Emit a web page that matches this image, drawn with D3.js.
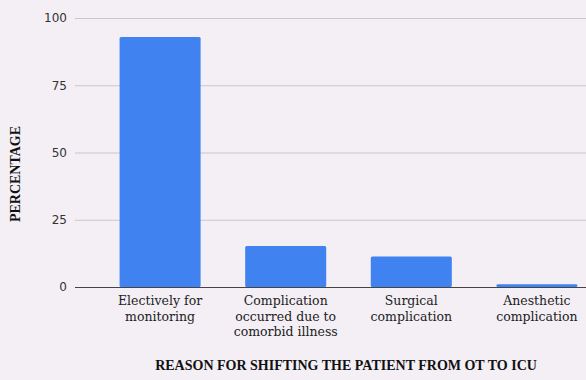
<!DOCTYPE html>
<html>
<head>
<meta charset="utf-8">
<script src="https://cdn.jsdelivr.net/npm/d3@7"></script>
<style>
  body { margin: 0; background: #f3eff5; }
  svg { display: block; }
</style>
</head>
<body>
<svg id="chart"></svg>
<script>
// data
var categories = [
    ["Electively for", "monitoring"],
    ["Complication", "occurred due to", "comorbid illness"],
    ["Surgical", "complication"],
    ["Anesthetic", "complication"]
];
var percentages = [92.9, 15.2, 11.3, 1.0];
var yTicks = [0, 25, 50, 75, 100];

var dimensions = {
    width: 586,
    height: 380,
    margin: { top: 18, bottom: 93, left: 75, right: -36 }
}

var data = categories.map(function(c, i){
    return { label: c, key: c.join(" "), value: percentages[i] };
});

var svg = d3.select("#chart")
            .attr("width", dimensions.width)
            .attr("height", dimensions.height)

var xScale = d3.scaleBand()
               .domain(data.map(function(d){ return d.key }))
               .range([dimensions.margin.left, dimensions.width - dimensions.margin.right])
               .padding(0.355)

var yScale = d3.scaleLinear()
               .domain([0, 100])
               .range([dimensions.height - dimensions.margin.bottom, dimensions.margin.top])

// gridlines
svg.append("g")
   .selectAll("line")
   .data(yTicks.filter(function(t){ return t > 0 }))
   .enter()
   .append("line")
   .attr("x1", dimensions.margin.left)
   .attr("x2", dimensions.width - dimensions.margin.right)
   .attr("y1", function(d){ return yScale(d) + 0.5 })
   .attr("y2", function(d){ return yScale(d) + 0.5 })
   .style("stroke", "#c9c7cb")
   .style("stroke-width", 1.2)

// bars
svg.append("g")
   .selectAll("rect")
   .data(data)
   .enter()
   .append("rect")
   .attr("x", function(d){ return xScale(d.key) })
   .attr("y", function(d){ return yScale(d.value) })
   .attr("width", xScale.bandwidth())
   .attr("height", function(d){ return yScale(0) - yScale(d.value) })
   .attr("rx", 1.5)
   .style("fill", "#3f82f0")

// baseline
svg.append("line")
   .attr("x1", dimensions.margin.left)
   .attr("x2", dimensions.width - dimensions.margin.right)
   .attr("y1", yScale(0) + 0.5)
   .attr("y2", yScale(0) + 0.5)
   .style("stroke", "#444")
   .style("stroke-width", 1.2)

// y tick labels
var yAxisGen = d3.axisLeft().scale(yScale).tickValues(yTicks).tickSize(0).tickPadding(8)
var yAxis = svg.append("g")
               .attr("transform", "translate(" + dimensions.margin.left + ",0)")
               .call(yAxisGen)
yAxis.select(".domain").remove();
yAxis.selectAll("text")
     .style("font-family", "'DejaVu Sans', sans-serif")
     .style("font-size", "12px")
     .style("fill", "#333");

// x category labels (multi-line)
var xLabels = svg.append("g")
                 .selectAll("text")
                 .data(data)
                 .enter()
                 .append("text")
                 .attr("x", function(d){ return xScale(d.key) + xScale.bandwidth() / 2 })
                 .attr("y", yScale(0) + 18)
                 .attr("text-anchor", "middle")
                 .style("font-family", "'DejaVu Serif', serif")
                 .style("font-size", "12.5px")
                 .style("fill", "#222")
xLabels.selectAll("tspan")
       .data(function(d){ return d.label })
       .enter()
       .append("tspan")
       .attr("x", function(){ var p = d3.select(this.parentNode).datum(); return xScale(p.key) + xScale.bandwidth() / 2 })
       .attr("dy", function(d, i){ return i === 0 ? 0 : 15.5 })
       .text(function(d){ return d });

// axis titles
svg.append("text")
   .attr("x", 346)
   .attr("y", 370)
   .attr("text-anchor", "middle")
   .style("font-family", "'Liberation Serif', serif")
   .style("font-weight", "bold")
   .style("font-size", "14px")
   .style("fill", "#111")
   .text("REASON FOR SHIFTING THE PATIENT FROM OT TO ICU");

svg.append("text")
   .attr("transform", "rotate(-90)")
   .attr("x", -174)
   .attr("y", 20)
   .attr("text-anchor", "middle")
   .style("font-family", "'Liberation Serif', serif")
   .style("font-weight", "bold")
   .style("font-size", "14px")
   .style("fill", "#111")
   .text("PERCENTAGE");
</script>
</body>
</html>
